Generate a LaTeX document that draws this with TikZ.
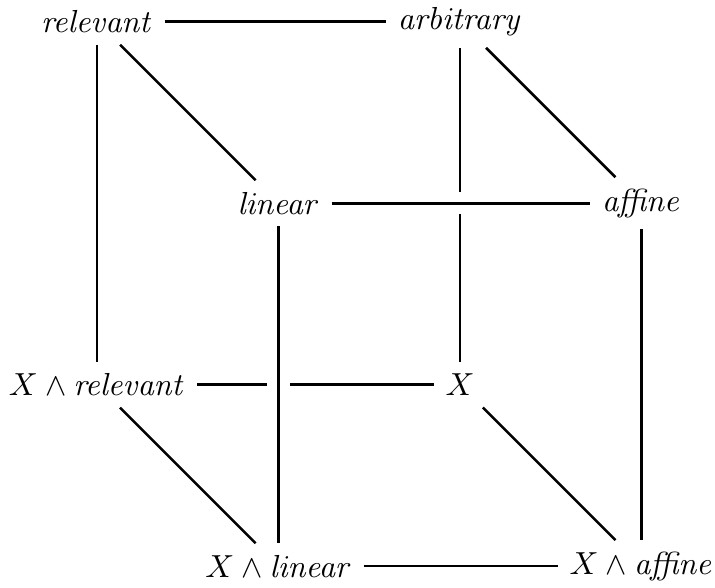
\documentclass[tikz,border=0pt]{standalone}
\begin{document}
\begin{tikzpicture}[line width=0.8pt,font=\normalsize,
  front/.style={preaction={draw,white,line width=7pt}}]
  \useasboundingbox (-1.07,-2.23) rectangle (6.81,4.24);

  % back face
  \node (rel)  at (0,4) {$\mathit{relevant}$};
  \node (arb)  at (4,4) {$\mathit{arbitrary}$};
  \node (xrel) at (0,0) {$X \wedge \mathit{relevant}$};
  \node (x)    at (4,0) {$X$};

  % front face
  \node (lin)  at (2,2)  {$\mathit{linear}$};
  \node (aff)  at (6,2)  {$\mathit{affine}$};
  \node (xlin) at (2,-2) {$X \wedge \mathit{linear}$};
  \node (xaff) at (6,-2) {$X \wedge \mathit{affine}$};

  % hidden edges
  \draw (rel) -- (arb);
  \draw (rel) -- (xrel);
  \draw (arb) -- (x);
  \draw (xrel) -- (x);

  % diagonals
  \draw (rel) -- (lin);
  \draw (arb) -- (aff);
  \draw (xrel) -- (xlin);
  \draw (x) -- (xaff);

  % visible edges, cutting the hidden ones
  \draw[front] (lin) -- (aff);
  \draw[front] (lin) -- (xlin);
  \draw (aff) -- (xaff);
  \draw (xlin) -- (xaff);
\end{tikzpicture}
\end{document}
